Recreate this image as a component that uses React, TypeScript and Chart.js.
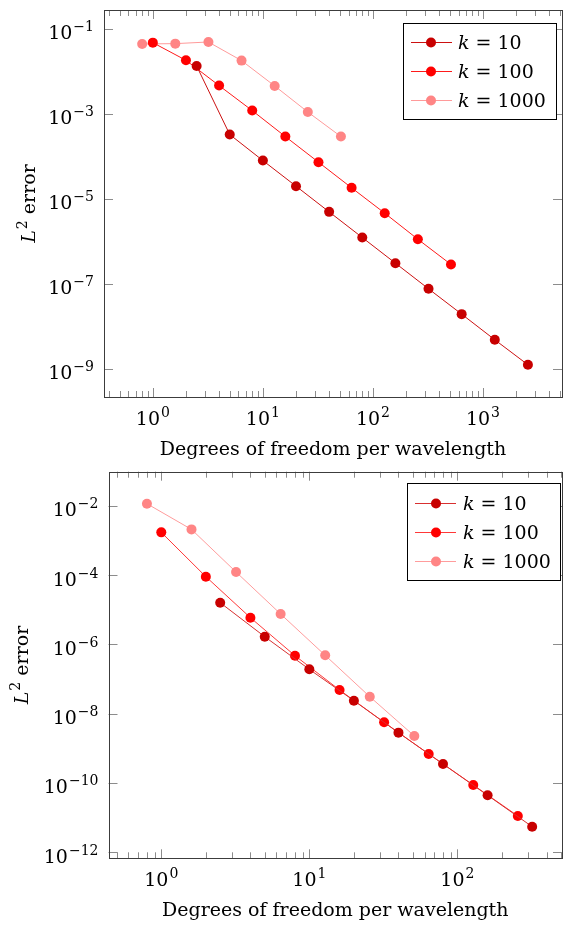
import React, { useEffect, useRef } from "react";
import { Chart, registerables } from "chart.js";

Chart.register(...registerables);

// Degrees of freedom per wavelength and L2 errors, first study
const dofK10Top = [2.5, 5, 10, 20, 40, 80, 160, 320, 640, 1280, 2560];
const errK10Top = [1.35e-2, 3.27e-4, 7.98e-5, 1.99e-5, 4.94e-6, 1.23e-6, 3.06e-7, 7.62e-8, 1.93e-8, 4.81e-9, 1.24e-9];
const dofK100Top = [1, 2, 4, 8, 16, 32, 64, 128, 256, 512];
const errK100Top = [4.77e-2, 1.83e-2, 4.65e-3, 1.2e-3, 2.93e-4, 7.3e-5, 1.82e-5, 4.6e-6, 1.12e-6, 2.85e-7];
const dofK1000Top = [0.8, 1.6, 3.2, 6.4, 12.8, 25.6, 51.2];
const errK1000Top = [4.44e-2, 4.52e-2, 4.94e-2, 1.8e-2, 4.56e-3, 1.11e-3, 2.93e-4];

// Second study
const dofK10Bottom = [2.5, 5, 10, 20, 40, 80, 160, 320];
const errK10Bottom = [1.59e-5, 1.66e-6, 1.9e-7, 2.37e-8, 2.83e-9, 3.53e-10, 4.41e-11, 5.49e-12];
const dofK100Bottom = [1, 2, 4, 8, 16, 32, 64, 128, 256];
const errK100Bottom = [1.7e-3, 8.96e-5, 5.88e-6, 4.71e-7, 4.82e-8, 5.62e-9, 6.87e-10, 8.75e-11, 1.12e-11];
const dofK1000Bottom = [0.8, 1.6, 3.2, 6.4, 12.8, 25.6, 51.2];
const errK1000Bottom = [1.14e-2, 2.07e-3, 1.22e-4, 7.5e-6, 4.82e-7, 3.09e-8, 2.27e-9];

const waveNumbers = ["10", "100", "1000"];
const topXTickExps = [0, 1, 2, 3];
const topYTickExps = [-1, -3, -5, -7, -9];
const bottomXTickExps = [0, 1, 2];
const bottomYTickExps = [-2, -4, -6, -8, -10, -12];

const xTitle = "Degrees of freedom per wavelength";
const yTitleTail = " error";

const FONT = '"DejaVu Serif", serif';
const MAIN_PX = 19;
const SUP_PX = 14;
const SUP_RAISE = 8;

type Series = { xs: number[]; ys: number[]; marker: string; line: string };
type Panel = {
  offsetTop: number;
  width: number;
  height: number;
  area: { left: number; right: number; top: number; bottom: number };
  xMin: number;
  xMax: number;
  yMin: number;
  yMax: number;
  xExps: number[];
  yExps: number[];
  series: Series[];
  legend: { left: number; top: number; right: number; bottom: number; lineX1: number; lineX2: number; markerX: number; textX: number; rows: number[] };
  yTitleX: number;
};

const topPanel: Panel = {
  offsetTop: 0,
  width: 567,
  height: 460,
  area: { left: 104, right: 566, top: 10, bottom: 397 },
  xMin: 0.36,
  xMax: 5224,
  yMin: 2.16e-10,
  yMax: 0.28,
  xExps: topXTickExps,
  yExps: topYTickExps,
  series: [
    { xs: dofK10Top, ys: errK10Top, marker: "#c80000", line: "#cc1111" },
    { xs: dofK100Top, ys: errK100Top, marker: "#ff0000", line: "#ff1a1a" },
    { xs: dofK1000Top, ys: errK1000Top, marker: "#ff8585", line: "#ff9a9a" },
  ],
  legend: { left: 403, top: 23, right: 556, bottom: 119, lineX1: 411, lineX2: 452, markerX: 431, textX: 458, rows: [42, 71, 100] },
  yTitleX: 28,
};

const bottomPanel: Panel = {
  offsetTop: 460,
  width: 567,
  height: 465,
  area: { left: 108.5, right: 566, top: 11.7, bottom: 398.3 },
  xMin: 0.44,
  xMax: 509,
  yMin: 6.71e-13,
  yMax: 0.0957,
  xExps: bottomXTickExps,
  yExps: bottomYTickExps,
  series: [
    { xs: dofK10Bottom, ys: errK10Bottom, marker: "#c80000", line: "#d83030" },
    { xs: dofK100Bottom, ys: errK100Bottom, marker: "#ff0000", line: "#ff3838" },
    { xs: dofK1000Bottom, ys: errK1000Bottom, marker: "#ff8585", line: "#ff9c9c" },
  ],
  legend: { left: 407, top: 23, right: 560, bottom: 120, lineX1: 415, lineX2: 456, markerX: 436, textX: 463, rows: [43, 72, 101] },
  yTitleX: 21,
};

function powerLabel(ctx: CanvasRenderingContext2D, exp: number, x: number, baseline: number, align: "center" | "right") {
  const base = "10";
  const sup = exp < 0 ? "\u2212" + String(-exp) : String(exp);
  ctx.font = `${MAIN_PX}px ${FONT}`;
  const wb = ctx.measureText(base).width;
  ctx.font = `${SUP_PX}px ${FONT}`;
  const ws = ctx.measureText(sup).width;
  const total = wb + 1 + ws;
  const x0 = align === "center" ? x - total / 2 : x - total;
  ctx.textAlign = "left";
  ctx.textBaseline = "alphabetic";
  ctx.fillStyle = "#000";
  ctx.font = `${MAIN_PX}px ${FONT}`;
  ctx.fillText(base, x0, baseline);
  ctx.font = `${SUP_PX}px ${FONT}`;
  ctx.fillText(sup, x0 + wb + 1, baseline - SUP_RAISE);
}

const px = (v: number) => Math.round(v) + 0.5;

function makeAxesPlugin(panel: Panel) {
  return {
    id: "pgfAxes",
    afterDraw(chart: Chart) {
      const ctx = chart.ctx;
      const { left, right, top, bottom } = chart.chartArea;
      const xs = chart.scales.x;
      const ys = chart.scales.y;
      ctx.save();

      // tick marks, pointing inward on all four sides
      ctx.strokeStyle = "#8c8c8c";
      ctx.lineWidth = 1;
      ctx.beginPath();
      const lo = Math.floor(Math.log10(panel.xMin));
      const hi = Math.ceil(Math.log10(panel.xMax));
      for (let e = lo; e <= hi; e++) {
        for (let m = 1; m <= 9; m++) {
          const v = m * Math.pow(10, e);
          if (v < panel.xMin || v > panel.xMax) continue;
          const len = m === 1 ? 9 : 6;
          const x = px(xs.getPixelForValue(v));
          ctx.moveTo(x, bottom);
          ctx.lineTo(x, bottom - len);
          ctx.moveTo(x, top);
          ctx.lineTo(x, top + len);
        }
      }
      for (const e of panel.yExps) {
        const y = px(ys.getPixelForValue(Math.pow(10, e)));
        ctx.moveTo(left, y);
        ctx.lineTo(left + 9, y);
        ctx.moveTo(right, y);
        ctx.lineTo(right - 9, y);
      }
      ctx.stroke();

      // axis frame
      ctx.strokeStyle = "#3c3c3c";
      ctx.strokeRect(px(left), px(top), Math.round(right) - Math.round(left), Math.round(bottom) - Math.round(top));

      // tick labels
      for (const e of panel.xExps) {
        powerLabel(ctx, e, xs.getPixelForValue(Math.pow(10, e)), bottom + 28, "center");
      }
      for (const e of panel.yExps) {
        powerLabel(ctx, e, left - 10, ys.getPixelForValue(Math.pow(10, e)) + 10.5, "right");
      }

      // x axis title
      ctx.fillStyle = "#000";
      ctx.font = `${MAIN_PX}px ${FONT}`;
      ctx.textAlign = "center";
      ctx.fillText(xTitle, (left + right) / 2, bottom + 58);

      // y axis title, rotated
      ctx.save();
      ctx.translate(panel.yTitleX, (top + bottom) / 2);
      ctx.rotate(-Math.PI / 2);
      ctx.textAlign = "left";
      ctx.font = `italic ${MAIN_PX}px ${FONT}`;
      const wL = ctx.measureText("L").width;
      ctx.font = `${SUP_PX}px ${FONT}`;
      const w2 = ctx.measureText("2").width;
      ctx.font = `${MAIN_PX}px ${FONT}`;
      const wE = ctx.measureText(yTitleTail).width;
      const x0 = -(wL + 1 + w2 + wE) / 2;
      const base = 7;
      ctx.font = `italic ${MAIN_PX}px ${FONT}`;
      ctx.fillText("L", x0, base);
      ctx.font = `${SUP_PX}px ${FONT}`;
      ctx.fillText("2", x0 + wL + 1, base - SUP_RAISE);
      ctx.font = `${MAIN_PX}px ${FONT}`;
      ctx.fillText(yTitleTail, x0 + wL + 1 + w2, base);
      ctx.restore();

      // legend
      const lg = panel.legend;
      ctx.fillStyle = "#fff";
      ctx.fillRect(lg.left, lg.top, lg.right - lg.left, lg.bottom - lg.top);
      ctx.strokeStyle = "#000";
      ctx.lineWidth = 1;
      ctx.strokeRect(px(lg.left), px(lg.top), Math.round(lg.right - lg.left), Math.round(lg.bottom - lg.top));
      panel.series.forEach((s, i) => {
        const y = lg.rows[i];
        ctx.strokeStyle = s.line;
        ctx.beginPath();
        ctx.moveTo(lg.lineX1, px(y));
        ctx.lineTo(lg.lineX2, px(y));
        ctx.stroke();
        ctx.fillStyle = s.marker;
        ctx.beginPath();
        ctx.arc(lg.markerX, y + 0.5, 5, 0, Math.PI * 2);
        ctx.fill();
        ctx.fillStyle = "#000";
        ctx.textAlign = "left";
        ctx.font = `italic ${MAIN_PX}px ${FONT}`;
        ctx.fillText("k", lg.textX, y + 7);
        const wk = ctx.measureText("k").width;
        ctx.font = `${MAIN_PX}px ${FONT}`;
        ctx.fillText(" = " + waveNumbers[i], lg.textX + wk, y + 7);
      });

      ctx.restore();
    },
  };
}

function PanelChart({ panel }: { panel: Panel }) {
  const ref = useRef<HTMLCanvasElement | null>(null);
  useEffect(() => {
    if (!ref.current) return;
    const a = panel.area;
    const chart = new Chart(ref.current, {
      type: "line",
      data: {
        datasets: panel.series.map((s, i) => ({
          label: "k = " + waveNumbers[i],
          data: s.xs.map((x, j) => ({ x, y: s.ys[j] })),
          borderColor: s.line,
          backgroundColor: s.marker,
          pointBackgroundColor: s.marker,
          pointBorderColor: s.marker,
          pointBorderWidth: 0,
          pointRadius: 5,
          borderWidth: 1,
          tension: 0,
          fill: false,
        })),
      },
      options: {
        animation: false,
        responsive: false,
        devicePixelRatio: 1,
        events: [],
        layout: {
          padding: { left: a.left, right: panel.width - a.right, top: a.top, bottom: panel.height - a.bottom },
        },
        scales: {
          x: { type: "logarithmic", min: panel.xMin, max: panel.xMax, display: false },
          y: { type: "logarithmic", min: panel.yMin, max: panel.yMax, display: false },
        },
        plugins: { legend: { display: false }, tooltip: { enabled: false } },
      },
      plugins: [makeAxesPlugin(panel)],
    } as any);
    return () => chart.destroy();
  }, [panel]);
  return (
    <canvas
      ref={ref}
      width={panel.width}
      height={panel.height}
      style={{ position: "absolute", left: 0, top: panel.offsetTop, width: panel.width, height: panel.height }}
    />
  );
}

export default function App() {
  return (
    <div style={{ position: "absolute", left: 0, top: 0, width: 567, height: 925, background: "#fff" }}>
      <PanelChart panel={topPanel} />
      <PanelChart panel={bottomPanel} />
    </div>
  );
}
